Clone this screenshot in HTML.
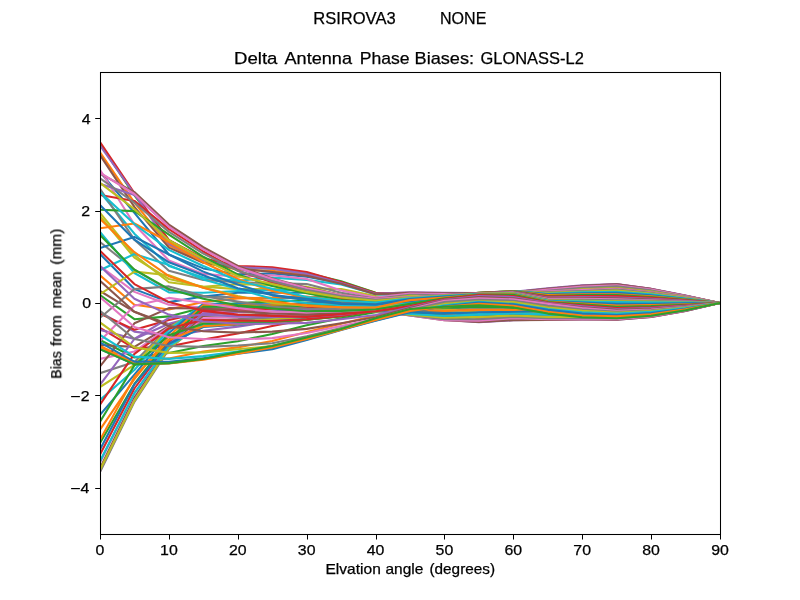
<!DOCTYPE html>
<html><head><meta charset="utf-8"><title>Delta Antenna Phase Biases</title>
<style>
html,body{margin:0;padding:0;background:#fff;}
body{width:800px;height:600px;overflow:hidden;font-family:"Liberation Sans",sans-serif;}
svg{display:block;}
text{font-family:"Liberation Sans",sans-serif;fill:#000;stroke:#000;stroke-width:0.25px;}
.t10{font-size:14.1px;}
.t12{font-size:17px;}
#ln polyline{fill:none;stroke-width:2.08;stroke-linejoin:round;stroke-linecap:butt;}
</style></head>
<body>
<svg width="800" height="600" viewBox="0 0 800 600">
<rect x="0" y="0" width="800" height="600" fill="#ffffff"/>
<defs><clipPath id="ax"><rect x="100" y="72" width="620" height="462"/></clipPath><filter id="g" x="0" y="0" width="800" height="600" filterUnits="userSpaceOnUse"><feOffset dx="0" dy="0"/></filter></defs>
<g id="ln" clip-path="url(#ax)">
<polyline points="100.0,349.2 134.4,364.4 168.9,363.1 203.3,358.9 237.8,352.0 272.2,346.0 306.7,337.6 341.1,328.9 375.6,318.2 410.0,309.0 444.4,306.7 478.9,305.3 513.3,307.6 547.8,313.6 582.2,317.3 616.7,318.2 651.1,315.7 685.6,310.2 720.0,303.0" stroke="#1f77b4"/>
<polyline points="100.0,346.0 134.4,362.1 168.9,358.4 203.3,351.5 237.8,347.4 272.2,340.9 306.7,332.1 341.1,323.8 375.6,315.5 410.0,307.4 444.4,306.5 478.9,305.1 513.3,307.4 547.8,313.2 582.2,316.7 616.7,317.6 651.1,315.2 685.6,309.9 720.0,303.0" stroke="#ff7f0e"/>
<polyline points="100.0,340.0 134.4,357.5 168.9,352.9 203.3,346.0 237.8,341.3 272.2,334.0 306.7,325.2 341.1,318.2 375.6,312.2 410.0,305.8 444.4,305.9 478.9,304.7 513.3,306.7 547.8,311.9 582.2,315.1 616.7,315.8 651.1,313.7 685.6,309.0 720.0,303.0" stroke="#2ca02c"/>
<polyline points="100.0,327.9 134.4,348.3 168.9,346.4 203.3,339.5 237.8,333.5 272.2,326.1 306.7,319.6 341.1,314.1 375.6,309.0 410.0,304.3 444.4,305.1 478.9,304.0 513.3,305.7 547.8,310.1 582.2,312.6 616.7,313.1 651.1,311.4 685.6,307.8 720.0,303.0" stroke="#d62728"/>
<polyline points="100.0,312.2 134.4,331.6 168.9,336.3 203.3,330.7 237.8,326.6 272.2,321.5 306.7,315.9 341.1,310.4 375.6,306.2 410.0,302.9 444.4,304.0 478.9,303.0 513.3,304.4 547.8,307.7 582.2,309.4 616.7,309.7 651.1,308.6 685.6,306.1 720.0,303.0" stroke="#9467bd"/>
<polyline points="100.0,291.0 134.4,311.8 168.9,324.3 203.3,321.5 237.8,319.2 272.2,315.9 306.7,312.2 341.1,306.7 375.6,303.5 410.0,301.5 444.4,302.7 478.9,302.0 513.3,302.9 547.8,305.0 582.2,305.9 616.7,305.8 651.1,305.3 685.6,304.3 720.0,303.0" stroke="#8c564b"/>
<polyline points="100.0,266.0 134.4,291.9 168.9,304.8 203.3,307.6 237.8,307.6 272.2,306.7 306.7,305.3 341.1,301.2 375.6,300.7 410.0,300.1 444.4,301.3 478.9,300.8 513.3,301.3 547.8,302.1 582.2,302.1 616.7,301.7 651.1,302.0 685.6,302.5 720.0,303.0" stroke="#e377c2"/>
<polyline points="100.0,242.0 134.4,269.7 168.9,290.1 203.3,296.1 237.8,297.5 272.2,298.4 306.7,297.5 341.1,295.6 375.6,298.4 410.0,298.8 444.4,299.9 478.9,299.5 513.3,299.6 547.8,299.2 582.2,298.3 616.7,297.6 651.1,298.9 685.6,300.9 720.0,303.0" stroke="#7f7f7f"/>
<polyline points="100.0,216.1 134.4,257.7 168.9,279.0 203.3,286.8 237.8,289.1 272.2,289.1 306.7,288.2 341.1,289.1 375.6,296.1 410.0,297.6 444.4,298.4 478.9,298.3 513.3,297.9 547.8,296.4 582.2,294.7 616.7,293.8 651.1,296.0 685.6,299.4 720.0,303.0" stroke="#bcbd22"/>
<polyline points="100.0,192.1 134.4,233.7 168.9,266.0 203.3,277.6 237.8,280.8 272.2,277.6 306.7,279.9 341.1,284.5 375.6,294.2 410.0,296.4 444.4,297.0 478.9,297.1 513.3,296.3 547.8,293.9 582.2,291.5 616.7,290.4 651.1,293.4 685.6,298.1 720.0,303.0" stroke="#17becf"/>
<polyline points="100.0,171.8 134.4,212.9 168.9,254.5 203.3,268.4 237.8,274.4 272.2,273.4 306.7,276.7 341.1,283.1 375.6,293.3 410.0,295.3 444.4,295.8 478.9,295.9 513.3,294.9 547.8,291.8 582.2,289.0 616.7,287.7 651.1,291.4 685.6,297.0 720.0,303.0" stroke="#1f77b4"/>
<polyline points="100.0,152.4 134.4,202.7 168.9,245.2 203.3,262.3 237.8,269.7 272.2,270.7 306.7,274.8 341.1,282.2 375.6,292.8 410.0,294.2 444.4,294.7 478.9,294.9 513.3,293.8 547.8,290.3 582.2,287.3 616.7,285.9 651.1,290.1 685.6,296.3 720.0,303.0" stroke="#ff7f0e"/>
<polyline points="100.0,143.6 134.4,195.4 168.9,240.2 203.3,259.1 237.8,267.0 272.2,268.4 306.7,273.0 341.1,281.3 375.6,292.8 410.0,293.3 444.4,293.8 478.9,294.0 513.3,292.8 547.8,289.4 582.2,286.4 616.7,285.0 651.1,289.4 685.6,296.0 720.0,303.0" stroke="#2ca02c"/>
<polyline points="100.0,142.2 134.4,193.0 168.9,240.2 203.3,258.2 237.8,266.0 272.2,267.2 306.7,272.0 341.1,282.0 375.6,293.3 410.0,292.7 444.4,293.1 478.9,293.3 513.3,292.2 547.8,288.7 582.2,285.7 616.7,284.3 651.1,288.9 685.6,295.7 720.0,303.0" stroke="#d62728"/>
<polyline points="100.0,145.5 134.4,194.0 168.9,243.9 203.3,260.5 237.8,267.0 272.2,268.8 306.7,273.9 341.1,282.9 375.6,293.8 410.0,292.4 444.4,292.8 478.9,293.1 513.3,291.9 547.8,288.4 582.2,285.4 616.7,284.1 651.1,288.7 685.6,295.6 720.0,303.0" stroke="#9467bd"/>
<polyline points="100.0,155.2 134.4,206.9 168.9,247.6 203.3,262.8 237.8,268.4 272.2,272.0 306.7,275.7 341.1,283.8 375.6,294.2 410.0,292.7 444.4,293.2 478.9,293.4 513.3,292.3 547.8,288.8 582.2,285.8 616.7,284.4 651.1,289.0 685.6,295.8 720.0,303.0" stroke="#8c564b"/>
<polyline points="100.0,169.9 134.4,224.5 168.9,260.5 203.3,273.9 237.8,276.7 272.2,275.3 306.7,279.0 341.1,290.5 375.6,297.5 410.0,293.5 444.4,294.0 478.9,294.2 513.3,293.1 547.8,289.6 582.2,286.6 616.7,285.2 651.1,289.6 685.6,296.1 720.0,303.0" stroke="#e377c2"/>
<polyline points="100.0,188.9 134.4,239.7 168.9,270.7 203.3,279.9 237.8,282.2 272.2,283.1 306.7,284.1 341.1,292.8 375.6,298.8 410.0,294.7 444.4,295.1 478.9,295.4 513.3,294.2 547.8,290.8 582.2,287.8 616.7,286.4 651.1,290.4 685.6,296.5 720.0,303.0" stroke="#7f7f7f"/>
<polyline points="100.0,212.9 134.4,255.0 168.9,282.2 203.3,286.8 237.8,284.1 272.2,285.4 306.7,286.8 341.1,295.1 375.6,300.0 410.0,295.9 444.4,296.4 478.9,296.7 513.3,295.5 547.8,292.2 582.2,289.3 616.7,288.0 651.1,291.6 685.6,297.1 720.0,303.0" stroke="#bcbd22"/>
<polyline points="100.0,231.9 134.4,273.0 168.9,292.4 203.3,292.8 237.8,291.0 272.2,290.1 306.7,290.1 341.1,297.5 375.6,301.6 410.0,297.1 444.4,297.6 478.9,298.0 513.3,296.9 547.8,293.9 582.2,291.1 616.7,289.9 651.1,293.1 685.6,297.9 720.0,303.0" stroke="#17becf"/>
<polyline points="100.0,254.0 134.4,289.1 168.9,302.1 203.3,296.5 237.8,292.8 272.2,292.8 306.7,292.8 341.1,299.3 375.6,303.0 410.0,298.3 444.4,298.8 478.9,299.4 513.3,298.4 547.8,295.7 582.2,293.1 616.7,292.1 651.1,294.7 685.6,298.7 720.0,303.0" stroke="#1f77b4"/>
<polyline points="100.0,275.3 134.4,304.8 168.9,309.5 203.3,302.1 237.8,298.4 272.2,297.5 306.7,296.5 341.1,300.7 375.6,303.9 410.0,299.6 444.4,300.0 478.9,300.9 513.3,299.9 547.8,297.7 582.2,295.4 616.7,294.5 651.1,296.6 685.6,299.7 720.0,303.0" stroke="#ff7f0e"/>
<polyline points="100.0,295.1 134.4,319.2 168.9,316.4 203.3,307.6 237.8,303.0 272.2,301.6 306.7,300.2 341.1,302.1 375.6,304.4 410.0,300.9 444.4,301.2 478.9,302.4 513.3,301.5 547.8,299.8 582.2,297.8 616.7,297.1 651.1,298.5 685.6,300.7 720.0,303.0" stroke="#2ca02c"/>
<polyline points="100.0,313.6 134.4,329.8 168.9,320.1 203.3,312.2 237.8,307.6 272.2,305.3 306.7,303.0 341.1,303.0 375.6,304.4 410.0,302.2 444.4,302.4 478.9,303.9 513.3,303.1 547.8,302.0 582.2,300.2 616.7,299.8 651.1,300.5 685.6,301.7 720.0,303.0" stroke="#d62728"/>
<polyline points="100.0,329.8 134.4,339.0 168.9,323.8 203.3,314.6 237.8,309.9 272.2,307.6 306.7,305.3 341.1,303.9 375.6,304.4 410.0,303.4 444.4,303.7 478.9,305.5 513.3,304.7 547.8,304.2 582.2,302.7 616.7,302.5 651.1,302.6 685.6,302.8 720.0,303.0" stroke="#9467bd"/>
<polyline points="100.0,345.0 134.4,346.9 168.9,326.1 203.3,314.6 237.8,310.9 272.2,308.5 306.7,305.7 341.1,304.3 375.6,304.2 410.0,304.7 444.4,305.0 478.9,307.2 513.3,306.4 547.8,306.3 582.2,305.2 616.7,305.2 651.1,304.8 685.6,304.0 720.0,303.0" stroke="#8c564b"/>
<polyline points="100.0,358.9 134.4,351.5 168.9,327.0 203.3,312.2 237.8,309.9 272.2,307.6 306.7,305.8 341.1,304.4 375.6,303.9 410.0,306.0 444.4,306.3 478.9,308.9 513.3,308.1 547.8,308.5 582.2,307.6 616.7,307.8 651.1,307.0 685.6,305.3 720.0,303.0" stroke="#e377c2"/>
<polyline points="100.0,373.2 134.4,362.1 168.9,327.5 203.3,308.5 237.8,307.6 272.2,306.4 306.7,305.2 341.1,304.0 375.6,303.9 410.0,307.2 444.4,307.8 478.9,310.7 513.3,309.8 547.8,310.5 582.2,309.9 616.7,310.3 651.1,309.1 685.6,306.5 720.0,303.0" stroke="#7f7f7f"/>
<polyline points="100.0,387.1 134.4,364.9 168.9,328.4 203.3,305.3 237.8,305.3 272.2,305.3 306.7,304.4 341.1,303.5 375.6,303.9 410.0,308.5 444.4,309.2 478.9,312.5 513.3,311.6 547.8,312.4 582.2,312.0 616.7,312.6 651.1,311.0 685.6,307.5 720.0,303.0" stroke="#bcbd22"/>
<polyline points="100.0,400.0 134.4,370.0 168.9,329.8 203.3,303.9 237.8,303.9 272.2,304.7 306.7,304.1 341.1,303.2 375.6,304.4 410.0,309.7 444.4,310.8 478.9,314.3 513.3,313.3 547.8,314.1 582.2,313.9 616.7,314.7 651.1,312.7 685.6,308.5 720.0,303.0" stroke="#17becf"/>
<polyline points="100.0,414.8 134.4,374.6 168.9,333.0 203.3,304.4 237.8,304.4 272.2,304.4 306.7,303.9 341.1,303.0 375.6,305.3 410.0,310.8 444.4,312.4 478.9,316.3 513.3,315.1 547.8,315.6 582.2,315.5 616.7,316.4 651.1,314.2 685.6,309.3 720.0,303.0" stroke="#1f77b4"/>
<polyline points="100.0,429.6 134.4,379.2 168.9,336.3 203.3,305.3 237.8,305.3 272.2,305.2 306.7,304.5 341.1,303.6 375.6,306.4 410.0,312.0 444.4,314.1 478.9,318.2 513.3,316.9 547.8,316.9 582.2,316.9 616.7,317.8 651.1,315.3 685.6,310.0 720.0,303.0" stroke="#ff7f0e"/>
<polyline points="100.0,443.0 134.4,383.9 168.9,340.0 203.3,306.7 237.8,306.7 272.2,306.7 306.7,305.8 341.1,304.8 375.6,307.6 410.0,313.1 444.4,315.9 478.9,320.6 513.3,318.7 547.8,317.8 582.2,317.8 616.7,318.7 651.1,316.1 685.6,310.4 720.0,303.0" stroke="#2ca02c"/>
<polyline points="100.0,454.5 134.4,388.5 168.9,342.3 203.3,309.9 237.8,309.5 272.2,308.8 306.7,307.7 341.1,306.4 375.6,308.9 410.0,314.1 444.4,318.2 478.9,321.9 513.3,319.6 547.8,318.7 582.2,318.7 616.7,319.2 651.1,316.5 685.6,310.6 720.0,303.0" stroke="#d62728"/>
<polyline points="100.0,462.4 134.4,393.1 168.9,344.6 203.3,313.2 237.8,312.2 272.2,311.3 306.7,309.9 341.1,308.1 375.6,309.9 410.0,315.0 444.4,319.6 478.9,322.2 513.3,320.3 547.8,319.6 582.2,319.2 616.7,319.6 651.1,316.9 685.6,310.9 720.0,303.0" stroke="#9467bd"/>
<polyline points="100.0,468.4 134.4,397.7 168.9,346.9 203.3,315.9 237.8,315.0 272.2,313.7 306.7,312.1 341.1,309.7 375.6,310.6 410.0,315.5 444.4,320.1 478.9,321.9 513.3,320.1 547.8,319.9 582.2,319.4 616.7,319.6 651.1,316.9 685.6,310.9 720.0,303.0" stroke="#8c564b"/>
<polyline points="100.0,471.6 134.4,400.0 168.9,348.3 203.3,318.2 237.8,317.3 272.2,315.9 306.7,314.1 341.1,311.3 375.6,310.9 410.0,315.5 444.4,320.1 478.9,320.6 513.3,318.2 547.8,319.2 582.2,319.2 616.7,319.2 651.1,316.5 685.6,310.6 720.0,303.0" stroke="#e377c2"/>
<polyline points="100.0,472.1 134.4,401.9 168.9,349.2 203.3,320.6 237.8,319.6 272.2,317.9 306.7,315.8 341.1,312.8 375.6,310.9 410.0,315.2 444.4,319.2 478.9,319.2 513.3,316.9 547.8,318.2 582.2,318.2 616.7,318.2 651.1,315.7 685.6,310.2 720.0,303.0" stroke="#7f7f7f"/>
<polyline points="100.0,469.8 134.4,400.9 168.9,347.8 203.3,322.9 237.8,321.5 272.2,319.6 306.7,317.3 341.1,314.1 375.6,310.9 410.0,314.8 444.4,317.8 478.9,316.9 513.3,315.5 547.8,316.9 582.2,316.9 616.7,316.9 651.1,314.6 685.6,309.5 720.0,303.0" stroke="#bcbd22"/>
<polyline points="100.0,461.0 134.4,393.1 168.9,346.0 203.3,325.2 237.8,323.3 272.2,321.4 306.7,318.8 341.1,315.2 375.6,310.6 410.0,313.9 444.4,315.9 478.9,314.6 513.3,313.2 547.8,314.6 582.2,314.6 616.7,314.6 651.1,312.6 685.6,308.5 720.0,303.0" stroke="#17becf"/>
<polyline points="100.0,449.5 134.4,384.3 168.9,343.7 203.3,327.0 237.8,324.7 272.2,322.4 306.7,319.6 341.1,315.9 375.6,310.4 410.0,312.2 444.4,313.6 478.9,312.2 513.3,311.8 547.8,311.3 582.2,311.3 616.7,311.3 651.1,309.9 685.6,306.9 720.0,303.0" stroke="#1f77b4"/>
<polyline points="100.0,439.8 134.4,376.9 168.9,340.0 203.3,326.1 237.8,324.3 272.2,322.4 306.7,319.6 341.1,316.3 375.6,310.4 410.0,309.5 444.4,310.9 478.9,309.9 513.3,309.9 547.8,307.6 582.2,306.7 616.7,306.7 651.1,306.1 685.6,304.7 720.0,303.0" stroke="#ff7f0e"/>
<polyline points="100.0,421.7 134.4,365.4 168.9,335.3 203.3,323.8 237.8,322.9 272.2,321.9 306.7,319.6 341.1,316.4 375.6,310.4 410.0,307.6 444.4,307.6 478.9,307.2 513.3,307.6 547.8,303.0 582.2,301.6 616.7,301.2 651.1,301.6 685.6,302.3 720.0,303.0" stroke="#2ca02c"/>
<polyline points="100.0,404.6 134.4,353.8 168.9,328.4 203.3,320.1 237.8,320.6 272.2,321.0 306.7,319.2 341.1,315.9 375.6,310.4 410.0,306.7 444.4,304.8 478.9,303.0 513.3,302.1 547.8,298.4 582.2,296.5 616.7,295.6 651.1,297.4 685.6,300.1 720.0,303.0" stroke="#d62728"/>
<polyline points="100.0,384.8 134.4,339.0 168.9,317.8 203.3,314.6 237.8,316.4 272.2,316.9 306.7,316.9 341.1,314.6 375.6,310.4 410.0,305.8 444.4,302.1 478.9,297.5 513.3,296.1 547.8,294.2 582.2,292.4 616.7,291.0 651.1,293.9 685.6,298.3 720.0,303.0" stroke="#9467bd"/>
<polyline points="100.0,366.3 134.4,323.3 168.9,308.1 203.3,308.5 237.8,311.3 272.2,313.2 306.7,314.6 341.1,313.2 375.6,310.4 410.0,305.3 444.4,300.2 478.9,294.2 513.3,291.9 547.8,291.7 582.2,290.3 616.7,288.9 651.1,292.3 685.6,297.5 720.0,303.0" stroke="#8c564b"/>
<polyline points="100.0,340.9 134.4,305.8 168.9,297.9 203.3,303.0 237.8,308.1 272.2,311.8 306.7,312.2 341.1,311.3 375.6,309.9 410.0,304.8 444.4,299.3 478.9,293.8 513.3,291.4 547.8,291.4 582.2,290.1 616.7,288.7 651.1,292.2 685.6,297.4 720.0,303.0" stroke="#e377c2"/>
<polyline points="100.0,317.8 134.4,289.1 168.9,286.4 203.3,296.1 237.8,301.6 272.2,306.7 306.7,308.5 341.1,309.0 375.6,308.5 410.0,303.9 444.4,298.4 478.9,293.5 513.3,291.2 547.8,292.1 582.2,291.0 616.7,289.6 651.1,292.9 685.6,297.8 720.0,303.0" stroke="#7f7f7f"/>
<polyline points="100.0,294.2 134.4,271.6 168.9,275.3 203.3,287.8 237.8,296.1 272.2,303.0 306.7,305.8 341.1,307.2 375.6,307.2 410.0,303.0 444.4,297.5 478.9,293.3 513.3,291.0 547.8,292.8 582.2,291.7 616.7,290.5 651.1,293.6 685.6,298.1 720.0,303.0" stroke="#bcbd22"/>
<polyline points="100.0,270.2 134.4,254.0 168.9,265.1 203.3,279.4 237.8,289.1 272.2,298.8 306.7,303.0 341.1,305.3 375.6,305.8 410.0,302.1 444.4,297.0 478.9,293.1 513.3,291.0 547.8,293.8 582.2,292.4 616.7,291.7 651.1,294.4 685.6,298.6 720.0,303.0" stroke="#17becf"/>
<polyline points="100.0,248.0 134.4,236.9 168.9,254.5 203.3,271.6 237.8,284.5 272.2,295.1 306.7,300.2 341.1,303.9 375.6,304.4 410.0,301.2 444.4,296.5 478.9,292.8 513.3,291.0 547.8,294.2 582.2,293.3 616.7,292.8 651.1,295.3 685.6,299.0 720.0,303.0" stroke="#1f77b4"/>
<polyline points="100.0,228.2 134.4,223.5 168.9,242.0 203.3,262.3 237.8,279.0 272.2,291.0 306.7,297.5 341.1,302.1 375.6,303.0 410.0,300.2 444.4,296.1 478.9,292.8 513.3,291.2 547.8,295.1 582.2,294.2 616.7,294.2 651.1,296.4 685.6,299.6 720.0,303.0" stroke="#ff7f0e"/>
<polyline points="100.0,209.7 134.4,211.1 168.9,234.6 203.3,256.8 237.8,274.4 272.2,285.9 306.7,293.3 341.1,299.8 375.6,301.6 410.0,299.3 444.4,295.6 478.9,292.8 513.3,291.4 547.8,296.1 582.2,295.1 616.7,295.1 651.1,297.1 685.6,299.9 720.0,303.0" stroke="#2ca02c"/>
<polyline points="100.0,194.9 134.4,200.9 168.9,229.1 203.3,251.5 237.8,270.7 272.2,282.2 306.7,290.5 341.1,297.9 375.6,300.2 410.0,298.4 444.4,295.4 478.9,293.1 513.3,291.7 547.8,296.5 582.2,296.1 616.7,296.1 651.1,297.8 685.6,300.3 720.0,303.0" stroke="#d62728"/>
<polyline points="100.0,183.8 134.4,194.9 168.9,226.5 203.3,248.9 237.8,267.9 272.2,279.9 306.7,288.7 341.1,296.1 375.6,299.3 410.0,297.9 444.4,295.1 478.9,293.3 513.3,291.9 547.8,297.5 582.2,297.0 616.7,297.5 651.1,298.8 685.6,300.8 720.0,303.0" stroke="#9467bd"/>
<polyline points="100.0,173.6 134.4,192.1 168.9,224.5 203.3,247.1 237.8,266.0 272.2,278.5 306.7,287.8 341.1,295.1 375.6,298.8 410.0,297.5 444.4,295.1 478.9,293.3 513.3,292.1 547.8,298.1 582.2,297.9 616.7,298.4 651.1,299.5 685.6,301.2 720.0,303.0" stroke="#8c564b"/>
<polyline points="100.0,172.7 134.4,194.0 168.9,226.8 203.3,249.4 237.8,267.4 272.2,279.0 306.7,288.2 341.1,295.1 375.6,298.8 410.0,297.0 444.4,295.1 478.9,293.5 513.3,292.4 547.8,298.8 582.2,298.8 616.7,299.3 651.1,300.2 685.6,301.6 720.0,303.0" stroke="#e377c2"/>
<polyline points="100.0,178.3 134.4,202.7 168.9,231.9 203.3,253.6 237.8,270.7 272.2,281.3 306.7,290.1 341.1,296.1 375.6,299.8 410.0,297.5 444.4,295.4 478.9,293.8 513.3,292.8 547.8,299.5 582.2,299.8 616.7,300.2 651.1,300.9 685.6,301.9 720.0,303.0" stroke="#7f7f7f"/>
<polyline points="100.0,182.9 134.4,209.2 168.9,240.2 203.3,259.1 237.8,276.2 272.2,284.1 306.7,291.9 341.1,297.5 375.6,300.7 410.0,297.9 444.4,295.6 478.9,293.8 513.3,293.3 547.8,300.2 582.2,300.7 616.7,301.2 651.1,301.6 685.6,302.3 720.0,303.0" stroke="#bcbd22"/>
<polyline points="100.0,192.1 134.4,224.0 168.9,249.9 203.3,266.0 237.8,280.8 272.2,288.7 306.7,297.0 341.1,300.7 375.6,302.5 410.0,298.4 444.4,296.1 478.9,294.0 513.3,293.8 547.8,300.7 582.2,301.6 616.7,302.1 651.1,302.3 685.6,302.6 720.0,303.0" stroke="#17becf"/>
<polyline points="100.0,205.1 134.4,239.7 168.9,262.3 203.3,275.3 237.8,288.2 272.2,295.1 306.7,298.8 341.1,303.0 375.6,304.4 410.0,299.1 444.4,296.5 478.9,294.2 513.3,294.0 547.8,301.2 582.2,302.5 616.7,303.9 651.1,303.8 685.6,303.4 720.0,303.0" stroke="#1f77b4"/>
<polyline points="100.0,218.9 134.4,252.2 168.9,276.2 203.3,287.8 237.8,297.0 272.2,301.2 306.7,305.8 341.1,307.2 375.6,307.6 410.0,300.0 444.4,297.5 478.9,294.5 513.3,294.2 547.8,301.6 582.2,303.5 616.7,305.5 651.1,305.1 685.6,304.2 720.0,303.0" stroke="#ff7f0e"/>
<polyline points="100.0,235.1 134.4,269.7 168.9,289.1 203.3,298.8 237.8,305.3 272.2,308.5 306.7,311.3 341.1,310.9 375.6,309.5 410.0,303.9 444.4,298.4 478.9,294.7 513.3,294.7 547.8,302.1 582.2,304.4 616.7,306.7 651.1,306.1 685.6,304.7 720.0,303.0" stroke="#2ca02c"/>
<polyline points="100.0,250.8 134.4,284.1 168.9,302.1 203.3,310.9 237.8,314.6 272.2,315.9 306.7,316.9 341.1,314.1 375.6,311.3 410.0,306.0 444.4,299.1 478.9,295.1 513.3,296.1 547.8,302.5 582.2,305.3 616.7,308.1 651.1,307.2 685.6,305.4 720.0,303.0" stroke="#d62728"/>
<polyline points="100.0,266.0 134.4,298.8 168.9,314.6 203.3,321.5 237.8,323.8 272.2,323.8 306.7,322.9 341.1,319.2 375.6,315.0 410.0,307.2 444.4,299.8 478.9,296.1 513.3,297.0 547.8,303.0 582.2,306.2 616.7,309.0 651.1,308.0 685.6,305.8 720.0,303.0" stroke="#9467bd"/>
<polyline points="100.0,280.8 134.4,311.8 168.9,326.1 203.3,331.2 237.8,332.6 272.2,331.6 306.7,328.9 341.1,323.3 375.6,317.3 410.0,308.1 444.4,300.2 478.9,297.0 513.3,298.4 547.8,303.5 582.2,307.2 616.7,309.9 651.1,308.8 685.6,306.3 720.0,303.0" stroke="#8c564b"/>
<polyline points="100.0,297.0 134.4,327.0 168.9,337.2 203.3,339.0 237.8,339.5 272.2,338.1 306.7,333.0 341.1,326.1 375.6,318.7 410.0,309.0 444.4,300.7 478.9,298.4 513.3,299.3 547.8,303.9 582.2,308.1 616.7,310.9 651.1,309.5 685.6,306.7 720.0,303.0" stroke="#e377c2"/>
<polyline points="100.0,310.9 134.4,339.0 168.9,346.0 203.3,346.9 237.8,345.5 272.2,343.2 306.7,336.3 341.1,327.9 375.6,319.6 410.0,309.9 444.4,302.1 478.9,299.8 513.3,300.7 547.8,305.8 582.2,309.5 616.7,311.8 651.1,310.3 685.6,307.1 720.0,303.0" stroke="#7f7f7f"/>
<polyline points="100.0,322.4 134.4,347.4 168.9,352.9 203.3,352.4 237.8,349.2 272.2,346.0 306.7,338.1 341.1,328.9 375.6,320.1 410.0,310.9 444.4,303.9 478.9,301.2 513.3,302.1 547.8,307.6 582.2,310.9 616.7,312.7 651.1,311.1 685.6,307.6 720.0,303.0" stroke="#bcbd22"/>
<polyline points="100.0,334.9 134.4,356.6 168.9,358.9 203.3,356.1 237.8,351.5 272.2,347.8 306.7,339.5 341.1,329.6 375.6,320.6 410.0,311.8 444.4,305.3 478.9,301.8 513.3,303.9 547.8,309.0 582.2,312.2 616.7,313.6 651.1,311.9 685.6,308.0 720.0,303.0" stroke="#17becf"/>
<polyline points="100.0,342.3 134.4,361.7 168.9,361.7 203.3,358.4 237.8,353.8 272.2,349.2 306.7,340.0 341.1,330.0 375.6,320.8 410.0,312.2 444.4,306.2 478.9,302.5 513.3,304.4 547.8,309.9 582.2,313.6 616.7,315.0 651.1,313.0 685.6,308.7 720.0,303.0" stroke="#1f77b4"/>
<polyline points="100.0,346.9 134.4,364.0 168.9,363.5 203.3,359.8 237.8,353.8 272.2,347.4 306.7,339.0 341.1,329.8 375.6,320.1 410.0,310.9 444.4,306.7 478.9,303.9 513.3,305.8 547.8,311.8 582.2,315.5 616.7,316.4 651.1,314.2 685.6,309.3 720.0,303.0" stroke="#ff7f0e"/>
<polyline points="100.0,349.2 134.4,364.4 168.9,363.1 203.3,358.9 237.8,352.0 272.2,346.0 306.7,337.6 341.1,328.9 375.6,318.2 410.0,309.0 444.4,306.7 478.9,305.3 513.3,307.6 547.8,313.6 582.2,317.3 616.7,318.2 651.1,315.7 685.6,310.2 720.0,303.0" stroke="#2ca02c"/>
</g>
<rect x="100.5" y="72.5" width="620" height="462" fill="none" stroke="#000" stroke-width="1.06"/>
<g filter="url(#g)">
<line x1="100.50" y1="535" x2="100.50" y2="539.5" stroke="#000" stroke-width="1.06"/>
<text x="100.00" y="555.2" text-anchor="middle" textLength="8.84" lengthAdjust="spacingAndGlyphs" class="t10">0</text>
<line x1="169.50" y1="535" x2="169.50" y2="539.5" stroke="#000" stroke-width="1.06"/>
<text x="168.89" y="555.2" text-anchor="middle" textLength="17.68" lengthAdjust="spacingAndGlyphs" class="t10">10</text>
<line x1="238.50" y1="535" x2="238.50" y2="539.5" stroke="#000" stroke-width="1.06"/>
<text x="237.78" y="555.2" text-anchor="middle" textLength="17.68" lengthAdjust="spacingAndGlyphs" class="t10">20</text>
<line x1="307.50" y1="535" x2="307.50" y2="539.5" stroke="#000" stroke-width="1.06"/>
<text x="306.67" y="555.2" text-anchor="middle" textLength="17.68" lengthAdjust="spacingAndGlyphs" class="t10">30</text>
<line x1="376.50" y1="535" x2="376.50" y2="539.5" stroke="#000" stroke-width="1.06"/>
<text x="375.56" y="555.2" text-anchor="middle" textLength="17.68" lengthAdjust="spacingAndGlyphs" class="t10">40</text>
<line x1="444.50" y1="535" x2="444.50" y2="539.5" stroke="#000" stroke-width="1.06"/>
<text x="444.44" y="555.2" text-anchor="middle" textLength="17.68" lengthAdjust="spacingAndGlyphs" class="t10">50</text>
<line x1="513.50" y1="535" x2="513.50" y2="539.5" stroke="#000" stroke-width="1.06"/>
<text x="513.33" y="555.2" text-anchor="middle" textLength="17.68" lengthAdjust="spacingAndGlyphs" class="t10">60</text>
<line x1="582.50" y1="535" x2="582.50" y2="539.5" stroke="#000" stroke-width="1.06"/>
<text x="582.22" y="555.2" text-anchor="middle" textLength="17.68" lengthAdjust="spacingAndGlyphs" class="t10">70</text>
<line x1="651.50" y1="535" x2="651.50" y2="539.5" stroke="#000" stroke-width="1.06"/>
<text x="651.11" y="555.2" text-anchor="middle" textLength="17.68" lengthAdjust="spacingAndGlyphs" class="t10">80</text>
<line x1="720.50" y1="535" x2="720.50" y2="539.5" stroke="#000" stroke-width="1.06"/>
<text x="720.00" y="555.2" text-anchor="middle" textLength="17.68" lengthAdjust="spacingAndGlyphs" class="t10">90</text>
<line x1="95.2" y1="488.50" x2="100" y2="488.50" stroke="#000" stroke-width="1.06"/>
<text x="89.3" y="493" text-anchor="end" textLength="8.84" lengthAdjust="spacingAndGlyphs" class="t10">4</text>
<line x1="71.1" y1="488.60" x2="79.9" y2="488.60" stroke="#000" stroke-width="1.17"/>
<line x1="95.2" y1="395.50" x2="100" y2="395.50" stroke="#000" stroke-width="1.06"/>
<text x="89.5" y="401" text-anchor="end" textLength="8.84" lengthAdjust="spacingAndGlyphs" class="t10">2</text>
<line x1="71.1" y1="396.60" x2="79.9" y2="396.60" stroke="#000" stroke-width="1.17"/>
<line x1="95.2" y1="303.50" x2="100" y2="303.50" stroke="#000" stroke-width="1.06"/>
<text x="91.0" y="308" text-anchor="end" textLength="8.84" lengthAdjust="spacingAndGlyphs" class="t10">0</text>
<line x1="95.2" y1="211.50" x2="100" y2="211.50" stroke="#000" stroke-width="1.06"/>
<text x="90.0" y="216" text-anchor="end" textLength="8.84" lengthAdjust="spacingAndGlyphs" class="t10">2</text>
<line x1="95.2" y1="118.50" x2="100" y2="118.50" stroke="#000" stroke-width="1.06"/>
<text x="90.5" y="124" text-anchor="end" textLength="8.84" lengthAdjust="spacingAndGlyphs" class="t10">4</text>
<text x="313.25" y="24" textLength="82.41" lengthAdjust="spacingAndGlyphs" class="t12">RSIROVA3</text>
<text x="440.00" y="24" textLength="46.34" lengthAdjust="spacingAndGlyphs" class="t12">NONE</text>
<text x="234.00" y="64" textLength="43.48" lengthAdjust="spacingAndGlyphs" class="t12">Delta</text>
<text x="284.50" y="64" textLength="67.48" lengthAdjust="spacingAndGlyphs" class="t12">Antenna</text>
<text x="359.75" y="64" textLength="49.86" lengthAdjust="spacingAndGlyphs" class="t12">Phase</text>
<text x="414.50" y="64" textLength="59.62" lengthAdjust="spacingAndGlyphs" class="t12">Biases:</text>
<text x="480.50" y="64" textLength="103.31" lengthAdjust="spacingAndGlyphs" class="t12">GLONASS-L2</text>
<text x="325.50" y="574.2" textLength="55.30" lengthAdjust="spacingAndGlyphs" class="t10">Elvation</text>
<text x="385.50" y="574.2" textLength="37.90" lengthAdjust="spacingAndGlyphs" class="t10">angle</text>
<text x="429.50" y="574.2" textLength="65.50" lengthAdjust="spacingAndGlyphs" class="t10">(degrees)</text>
<g transform="translate(61.2,380.5) rotate(-90)">
<text x="1.80" y="0" textLength="27.50" lengthAdjust="spacingAndGlyphs" class="t10">Bias</text>
<text x="34.60" y="0" textLength="30.56" lengthAdjust="spacingAndGlyphs" class="t10">from</text>
<text x="72.00" y="0" textLength="37.10" lengthAdjust="spacingAndGlyphs" class="t10">mean</text>
<text x="115.80" y="0" textLength="35.98" lengthAdjust="spacingAndGlyphs" class="t10">(mm)</text>
</g>
</g>
</svg>
</body></html>
